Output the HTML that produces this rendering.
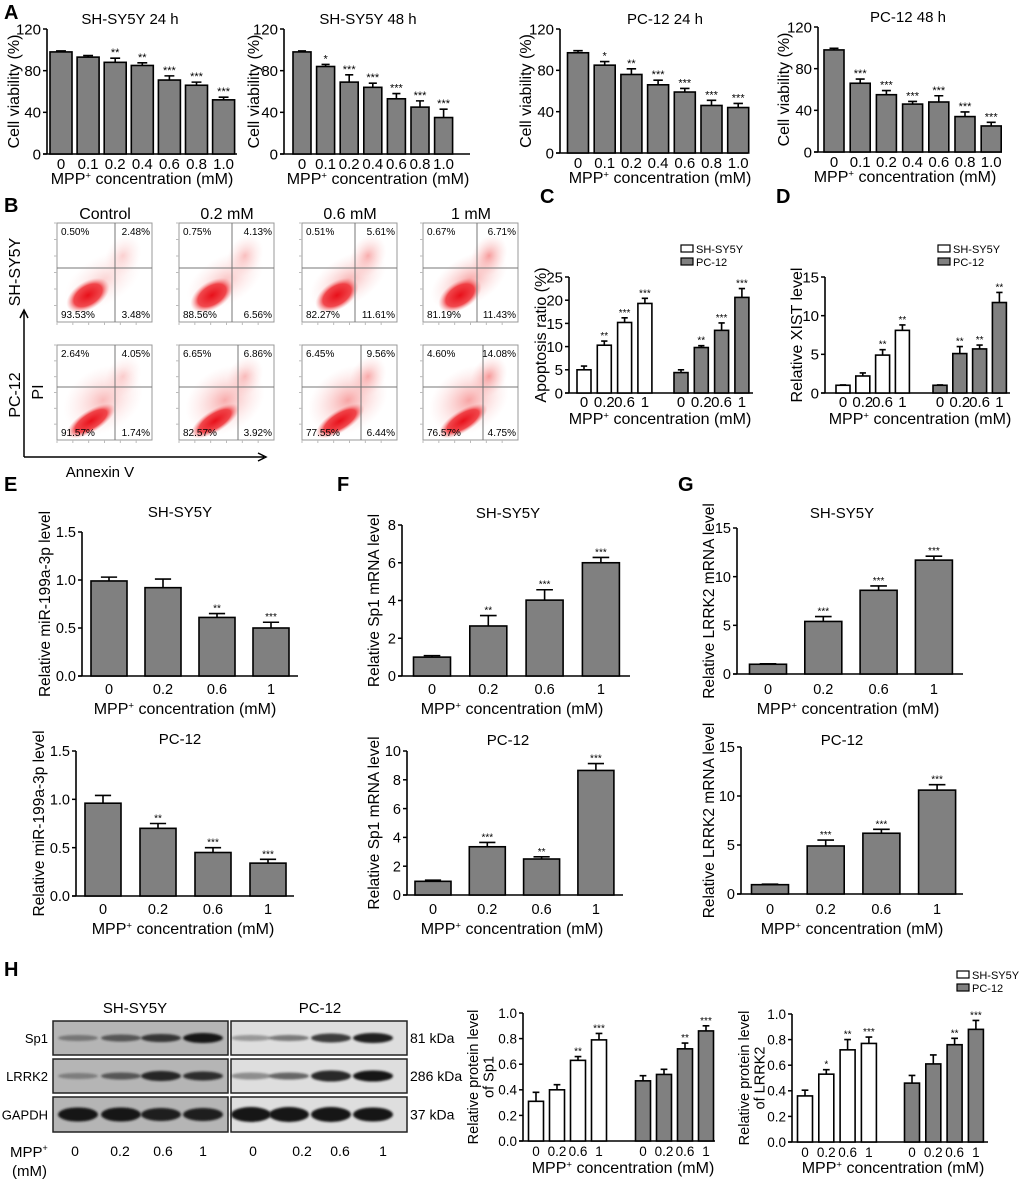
<!DOCTYPE html>
<html><head><meta charset="utf-8">
<style>
html,body{margin:0;padding:0;background:#fff;}
svg{display:block;font-family:"Liberation Sans",Arial,sans-serif;}
</style></head>
<body>
<svg id="fig" width="1020" height="1179" viewBox="0 0 1020 1179" xmlns="http://www.w3.org/2000/svg">
<defs>
<radialGradient id="blob" cx="50%" cy="50%" r="50%">
<stop offset="0%" stop-color="#e8101a" stop-opacity="1"/>
<stop offset="65%" stop-color="#ee2a30" stop-opacity="0.85"/>
<stop offset="100%" stop-color="#f59090" stop-opacity="0"/>
</radialGradient>
<radialGradient id="haze" cx="50%" cy="50%" r="50%">
<stop offset="0%" stop-color="#f04848" stop-opacity="0.55"/>
<stop offset="100%" stop-color="#f8b0b0" stop-opacity="0"/>
</radialGradient>
<filter id="soft" x="-20%" y="-50%" width="140%" height="200%"><feGaussianBlur stdDeviation="1.1"/></filter>
</defs>
<g id="root"></g>
</svg>
<script>
// ===== Panel A data =====
const aCategories = ["0","0.1","0.2","0.4","0.6","0.8","1.0"];
const aTicks = [0,40,80,120];
const a1Values = [98,93,88,85,71,66,52];
const a1Errors = [1,1.5,4,2.5,4,3,2.5];
const a1Stars = ["","","**","**","***","***","***"];
const a2Values = [98,84,69,64,53,45,35];
const a2Errors = [1,2,7,4,5,6,8];
const a2Stars = ["","*","***","***","***","***","***"];
const a3Values = [97,85,76,66,59,46,44];
const a3Errors = [2,3.5,5.5,4.5,3.5,5,4];
const a3Stars = ["","*","**","***","***","***","***"];
const a4Values = [98,66,55,46,48,34,25];
const a4Errors = [1.5,4,4,2.5,6,4.5,3.5];
const a4Stars = ["","***","***","***","***","***","***"];
// ===== Panel C / D data =====
const doseCategories = ["0","0.2","0.6","1"];
const cTicks = [0,5,10,15,20,25];
const cShValues = [5,10.3,15.2,19.3];
const cShErrors = [0.8,0.9,1.0,1.1];
const cShStars = ["","**","***","***"];
const cPcValues = [4.4,9.8,13.5,20.6];
const cPcErrors = [0.6,0.4,1.6,1.9];
const cPcStars = ["","**","***","***"];
const dTicks = [0,5,10,15];
const dShValues = [1,2.2,4.9,8.1];
const dShErrors = [0.05,0.4,0.7,0.7];
const dShStars = ["","","**","**"];
const dPcValues = [1,5.1,5.7,11.7];
const dPcErrors = [0.05,0.9,0.5,1.3];
const dPcStars = ["","**","**","**"];
// ===== Panel E / F / G data =====
const eTicks = [0,0.5,1.0,1.5];
const eShValues = [0.99,0.92,0.61,0.50];
const eShErrors = [0.04,0.09,0.04,0.06];
const eShStars = ["","","**","***"];
const ePcValues = [0.96,0.70,0.45,0.34];
const ePcErrors = [0.08,0.05,0.05,0.04];
const ePcStars = ["","**","***","***"];
const fShTicks = [0,2,4,6,8];
const fShValues = [1,2.65,4.02,6.0];
const fShErrors = [0.08,0.55,0.55,0.28];
const fShStars = ["","**","***","***"];
const fPcTicks = [0,2,4,6,8,10];
const fPcValues = [0.95,3.35,2.5,8.65];
const fPcErrors = [0.08,0.3,0.15,0.48];
const fPcStars = ["","***","**","***"];
const gTicks = [0,5,10,15];
const gShValues = [1,5.4,8.6,11.7];
const gShErrors = [0.05,0.5,0.45,0.4];
const gShStars = ["","***","***","***"];
const gPcValues = [0.95,4.9,6.2,10.6];
const gPcErrors = [0.05,0.6,0.4,0.55];
const gPcStars = ["","***","***","***"];
// ===== Panel H data =====
const hTicks = [0,0.2,0.4,0.6,0.8,1.0];
const hSpShValues = [0.31,0.40,0.63,0.79];
const hSpShErrors = [0.07,0.04,0.03,0.05];
const hSpShStars = ["","","**","***"];
const hSpPcValues = [0.47,0.52,0.72,0.86];
const hSpPcErrors = [0.04,0.04,0.045,0.04];
const hSpPcStars = ["","","**","***"];
const hLrShValues = [0.36,0.53,0.72,0.77];
const hLrShErrors = [0.045,0.035,0.08,0.05];
const hLrShStars = ["","*","**","***"];
const hLrPcValues = [0.46,0.61,0.76,0.88];
const hLrPcErrors = [0.06,0.07,0.05,0.07];
const hLrPcStars = ["","","**","***"];
// ===== Panel B data =====
const flowTitles = ["Control","0.2 mM","0.6 mM","1 mM"];
const flowSh = [["0.50%","2.48%","93.53%","3.48%"],["0.75%","4.13%","88.56%","6.56%"],["0.51%","5.61%","82.27%","11.61%"],["0.67%","6.71%","81.19%","11.43%"]];
const flowPc = [["2.64%","4.05%","91.57%","1.74%"],["6.65%","6.86%","82.57%","3.92%"],["6.45%","9.56%","77.55%","6.44%"],["4.60%","14.08%","76.57%","4.75%"]];

const NS = "http://www.w3.org/2000/svg";
const root = document.getElementById("root");
function el(tag, attrs, parent){
  const e = document.createElementNS(NS, tag);
  for (const k in attrs) e.setAttribute(k, attrs[k]);
  (parent||root).appendChild(e);
  return e;
}
function txt(x,y,s,size,anchor,parent,extra){
  const t = el("text",Object.assign({x:x,y:y,"font-size":size,"text-anchor":anchor||"middle",fill:"#000"},extra||{}),parent);
  t.textContent = s;
  return t;
}
function mppTitle(g,x,y,size){
  const t = el("text",{x:x,y:y,"font-size":size,"text-anchor":"middle",fill:"#000"},g);
  
  
  const a = el("tspan",{},t); a.textContent="MPP";
  const b = el("tspan",{"font-size":size*0.6,dy:-size*0.35},t); b.textContent="+";
  const c = el("tspan",{dy:size*0.35},t); c.textContent=" concentration (mM)";
  return t;
}
function panelLabel(x,y,s){
  const t = txt(x,y,s,20,"start",root,{"font-weight":"bold"});
  
  
}

function barChart(o){
  const g = el("g",{});
  
  
  const ymax = o.ticks[o.ticks.length-1];
  const Y = v => o.yBot - v/ymax*(o.yBot-o.yTop);
  const X = (gi,i) => o.x0 + i*o.step + gi*(o.groupOff||0);
  const ya = el("line",{x1:o.ax,y1:o.yTop,x2:o.ax,y2:o.yBot,stroke:"#000","stroke-width":1.6},g);
  
  
  const xa = el("line",{x1:o.ax-4,y1:o.yBot,x2:o.xEnd,y2:o.yBot,stroke:"#000","stroke-width":1.6},g);
  
  
  const ts = o.tickSize||14;
  o.ticks.forEach(t=>{
    el("line",{x1:o.ax-4,y1:Y(t),x2:o.ax,y2:Y(t),stroke:"#000","stroke-width":1.5},g);
    const lb = txt(o.ax-6,Y(t)+ts*0.36,o.fmt?o.fmt(t):String(t),ts,"end",g);
    
    
  });
  o.series.forEach((s,gi)=>{
    s.vals.forEach((v,i)=>{
      const cx = X(gi,i), top = Y(v);
      const r = el("rect",{x:cx-o.bw/2,y:top,width:o.bw,height:o.yBot-top,fill:s.fill,stroke:"#000","stroke-width":1.6},g);
      
      
      const et = Y(v+s.errs[i]);
      const cap = Math.max(6,o.bw*0.45);
      const eb = el("path",{d:`M${cx},${top} V${et} M${cx-cap/2},${et} H${cx+cap/2}`,stroke:"#000","stroke-width":1.6,fill:"none"},g);
      
      
      if (s.stars[i]){
        const st = txt(cx,et-2,s.stars[i],o.starSize||11,"middle",g);
        
        
      }
      const xl = txt(cx,o.xLabY,o.cats[i],ts,"middle",g);
      
      
    });
  });
  if (o.title){
    const tt = txt(o.titleX,o.titleY,o.title,o.titleSize||15,"middle",g);
    
    
  }
  mppTitle(g,o.xTitleX,o.xTitleY,o.xTitleSize||16);
  const cy = (o.yTop+o.yBot)/2 + (o.yLabShift||0);
  o.yLab.forEach((line,k)=>{
    const lx = o.yLabX + k*(o.yLabSize+1);
    const t = txt(lx,cy,line,o.yLabSize,"middle",g,{transform:`rotate(-90 ${lx} ${cy})`});
    
    
  });
  return g;
}
function legend(x,y){
  const g = el("g",{});
  
  
  [["SH-SY5Y","#fff"],["PC-12","#808080"]].forEach((d,k)=>{
    el("rect",{x:x,y:y+k*13-8,width:12,height:7,fill:d[1],stroke:"#000","stroke-width":1.2},g);
    const t = txt(x+15,y+k*13,d[0],11,"start",g);
    
    
  });
}
const fmt1 = v=>v.toFixed(1);
const GRAY="#808080";

// ===== Panel A =====
panelLabel(4,19,"A");
barChart({name:"chart-a-shsy5y-24h",ax:47,yTop:29,yBot:154,xEnd:237,ticks:aTicks,x0:61,step:27.1,bw:22,cats:aCategories,
  series:[{label:"sh24",vals:a1Values,errs:a1Errors,stars:a1Stars,fill:GRAY}],xLabY:169,title:"SH-SY5Y  24 h",titleX:130,titleY:24,
  xTitleX:142,xTitleY:184,yLab:["Cell viability (%)"],yLabX:19,yLabSize:16,tickSize:15});
barChart({name:"chart-a-shsy5y-48h",ax:284,yTop:29,yBot:154,xEnd:470,ticks:aTicks,x0:302,step:23.6,bw:18,cats:aCategories,
  series:[{label:"sh48",vals:a2Values,errs:a2Errors,stars:a2Stars,fill:GRAY}],xLabY:169,title:"SH-SY5Y  48 h",titleX:368,titleY:24,
  xTitleX:378,xTitleY:184,yLab:["Cell viability (%)"],yLabX:259,yLabSize:16,tickSize:15});
barChart({name:"chart-a-pc12-24h",ax:560,yTop:29,yBot:153,xEnd:748,ticks:aTicks,x0:578,step:26.7,bw:21,cats:aCategories,
  series:[{label:"pc24",vals:a3Values,errs:a3Errors,stars:a3Stars,fill:GRAY}],xLabY:168,title:"PC-12  24 h",titleX:665,titleY:24,
  xTitleX:660,xTitleY:183,yLab:["Cell viability (%)"],yLabX:531,yLabSize:16,tickSize:15});
barChart({name:"chart-a-pc12-48h",ax:818,yTop:27,yBot:152,xEnd:1002,ticks:aTicks,x0:834,step:26.2,bw:20,cats:aCategories,
  series:[{label:"pc48",vals:a4Values,errs:a4Errors,stars:a4Stars,fill:GRAY}],xLabY:167,title:"PC-12  48 h",titleX:908,titleY:22,
  xTitleX:905,xTitleY:182,yLab:["Cell viability (%)"],yLabX:789,yLabSize:16,tickSize:15});

// ===== Panel B (flow cytometry) =====
panelLabel(4,212,"B");
const flowCols=[57,179,302,423], flowW=95;
const rows=[{top:223,bot:322,data:flowSh,v:[58,53,53,54],h:45,name:"shsy5y"},{top:345,bot:440,data:flowPc,v:[58,59,59,60],h:42,name:"pc12"}];
flowTitles.forEach((t,c)=>{const tt=txt(flowCols[c]+48,219,t,16,"middle");});
rows.forEach((r,ri)=>{
  flowCols.forEach((x0,c)=>{
    const g = el("g",{});
    
    
    const H = r.bot-r.top;
    el("rect",{x:x0,y:r.top,width:flowW,height:H,fill:"#fff",stroke:"#999","stroke-width":1},g);
    for(let k=0;k<6;k++){
      el("line",{x1:x0+k*flowW/6,y1:r.bot,x2:x0+k*flowW/6,y2:r.bot+3,stroke:"#bbb","stroke-width":1},g);
      el("line",{x1:x0-3,y1:r.top+k*H/6,x2:x0,y2:r.top+k*H/6,stroke:"#bbb","stroke-width":1},g);
    }
    const sev = c/3 + ri*0.5;
    el("ellipse",{cx:x0+46,cy:r.top+H*0.58,rx:42,ry:24+ri*8,fill:"url(#haze)",opacity:0.45+0.45*Math.min(sev,1),transform:`rotate(-30 ${x0+46} ${r.top+H*0.58})`},g);
    el("ellipse",{cx:x0+66,cy:r.top+H*0.33,rx:17,ry:22,fill:"url(#haze)",opacity:0.45+0.5*c/3,transform:`rotate(30 ${x0+66} ${r.top+H*0.33})`},g);
    const mx = x0+ (ri?34:31)+c*2, my = r.top+H*(ri?0.8:0.73);
    el("ellipse",{cx:mx,cy:my,rx:ri?28:24,ry:ri?11:14,fill:"url(#blob)",transform:`rotate(-32 ${mx} ${my})`},g);
    el("line",{x1:x0+r.v[c],y1:r.top,x2:x0+r.v[c],y2:r.bot,stroke:"#777","stroke-width":1},g);
    el("line",{x1:x0,y1:r.top+r.h,x2:x0+flowW,y2:r.top+r.h,stroke:"#777","stroke-width":1},g);
    const d=r.data[c];
    txt(x0+4,r.top+12,d[0],10,"start",g);
    txt(x0+flowW-2,r.top+12,d[1],10,"end",g);
    txt(x0+4,r.bot-4,d[2],10,"start",g);
    txt(x0+flowW-2,r.bot-4,d[3],10,"end",g);
  });
});
let t;
t=txt(20,272,"SH-SY5Y",16,"middle",root,{transform:"rotate(-90 20 272)"});
t=txt(20,395,"PC-12",16,"middle",root,{transform:"rotate(-90 20 395)"});
t=txt(43,392,"PI",16,"middle",root,{transform:"rotate(-90 43 392)"});
t=txt(100,477,"Annexin V",15,"middle");
t=el("path",{d:"M24,457 V312 M20,318 L24,310 L28,318 M24,457 H264 M258,453 L266,457 L258,461",stroke:"#000","stroke-width":1.5,fill:"none"});


// ===== Panel C / D =====
panelLabel(540,203,"C");
legend(681,253);
barChart({name:"chart-c-apoptosis",ax:569,yTop:277,yBot:393,xEnd:753,ticks:cTicks,x0:584,step:20.3,groupOff:97,bw:14,cats:doseCategories,
  series:[{label:"shsy5y",vals:cShValues,errs:cShErrors,stars:cShStars,fill:"#fff"},{label:"pc12",vals:cPcValues,errs:cPcErrors,stars:cPcStars,fill:GRAY}],
  xLabY:407,xTitleX:660,xTitleY:424,yLab:["Apoptosis ratio (%)"],yLabX:546,yLabSize:16,tickSize:15,starSize:10});
panelLabel(776,203,"D");
legend(938,253);
barChart({name:"chart-d-xist",ax:825,yTop:277,yBot:393,xEnd:1010,ticks:dTicks,x0:843,step:19.8,groupOff:97,bw:14,cats:doseCategories,
  series:[{label:"shsy5y",vals:dShValues,errs:dShErrors,stars:dShStars,fill:"#fff"},{label:"pc12",vals:dPcValues,errs:dPcErrors,stars:dPcStars,fill:GRAY}],
  xLabY:407,xTitleX:920,xTitleY:424,yLab:["Relative XIST level"],yLabX:802,yLabSize:16,tickSize:15,starSize:10});

// ===== Panel E =====
panelLabel(4,491,"E");
barChart({name:"chart-e-shsy5y",ax:82,yTop:532,yBot:676,xEnd:298,ticks:eTicks,fmt:fmt1,x0:109,step:54,bw:36,cats:doseCategories,
  series:[{label:"e-sh",vals:eShValues,errs:eShErrors,stars:eShStars,fill:GRAY}],xLabY:694,title:"SH-SY5Y",titleX:180,titleY:517,
  xTitleX:185,xTitleY:714,yLab:["Relative miR-199a-3p level"],yLabX:50,yLabSize:15.5,tickSize:14.5,starSize:10});
barChart({name:"chart-e-pc12",ax:76,yTop:751,yBot:896,xEnd:294,ticks:eTicks,fmt:fmt1,x0:103,step:55,bw:36,cats:doseCategories,
  series:[{label:"e-pc",vals:ePcValues,errs:ePcErrors,stars:ePcStars,fill:GRAY}],xLabY:914,title:"PC-12",titleX:180,titleY:744,
  xTitleX:183,xTitleY:934,yLab:["Relative miR-199a-3p level"],yLabX:44,yLabSize:15.5,tickSize:14.5,starSize:10});

// ===== Panel F =====
panelLabel(337,491,"F");
barChart({name:"chart-f-shsy5y",ax:402,yTop:525,yBot:676,xEnd:630,ticks:fShTicks,x0:432,step:56.3,bw:37,cats:doseCategories,
  series:[{label:"f-sh",vals:fShValues,errs:fShErrors,stars:fShStars,fill:GRAY}],xLabY:694,title:"SH-SY5Y",titleX:508,titleY:518,
  xTitleX:512,xTitleY:714,yLab:["Relative Sp1 mRNA level"],yLabX:379,yLabSize:15.5,tickSize:14.5,starSize:10});
barChart({name:"chart-f-pc12",ax:407,yTop:751,yBot:895,xEnd:623,ticks:fPcTicks,x0:433,step:54.3,bw:36,cats:doseCategories,
  series:[{label:"f-pc",vals:fPcValues,errs:fPcErrors,stars:fPcStars,fill:GRAY}],xLabY:914,title:"PC-12",titleX:508,titleY:745,
  xTitleX:512,xTitleY:934,yLab:["Relative Sp1 mRNA level"],yLabX:379,yLabSize:15.5,tickSize:14.5,starSize:10});

// ===== Panel G =====
panelLabel(678,491,"G");
barChart({name:"chart-g-shsy5y",ax:737,yTop:528,yBot:674,xEnd:963,ticks:gTicks,x0:768,step:55.3,bw:37,cats:doseCategories,
  series:[{label:"g-sh",vals:gShValues,errs:gShErrors,stars:gShStars,fill:GRAY}],xLabY:694,title:"SH-SY5Y",titleX:842,titleY:518,
  xTitleX:848,xTitleY:714,yLab:["Relative LRRK2 mRNA level"],yLabX:714,yLabSize:15.5,tickSize:14.5,starSize:10});
barChart({name:"chart-g-pc12",ax:741,yTop:747,yBot:894,xEnd:963,ticks:gTicks,x0:770,step:55.7,bw:37,cats:doseCategories,
  series:[{label:"g-pc",vals:gPcValues,errs:gPcErrors,stars:gPcStars,fill:GRAY}],xLabY:914,title:"PC-12",titleX:842,titleY:745,
  xTitleX:852,xTitleY:934,yLab:["Relative LRRK2 mRNA level"],yLabX:714,yLabSize:15.5,tickSize:14.5,starSize:10});

// ===== Panel H western blot =====
panelLabel(4,976,"H");
(function(){
  const g = el("g",{});
  
  
  const gels=[{x:53,w:175,bg:"#b5b5b5",lanes:[78,121,161,203],name:"shsy5y"},{x:231,w:176,bg:"#dedede",lanes:[251,289,331,373],name:"pc12"}];
  const rowsH=[{y:1021,h:34,name:"Sp1",kda:"81 kDa",bands:[[0.4,3],[0.6,3.5],[0.8,4],[1,5]],pb:[[0.35,3],[0.5,3],[0.8,4.5],[0.95,5]]},
               {y:1059,h:34,name:"LRRK2",kda:"286 kDa",bands:[[0.35,3],[0.6,3.5],[0.9,5],[0.85,4.5]],pb:[[0.4,3.5],[0.6,3.5],[0.9,5.5],[1,5.5]]},
               {y:1097,h:35,name:"GAPDH",kda:"37 kDa",bands:[[1,7],[1,7],[0.95,6.5],[0.95,6.5]],pb:[[1,7.5],[1,7.5],[1,7.5],[1,7]]}];
  gels.forEach((gl,gi)=>{
    rowsH.forEach(r=>{
      const b = el("rect",{x:gl.x,y:r.y,width:gl.w,height:r.h,fill:gl.bg,stroke:"#222","stroke-width":1.5},g);
      
      
      const bands = gi? r.pb : r.bands;
      gl.lanes.forEach((lx,i)=>{
        const [op,ry]=bands[i];
        el("ellipse",{cx:lx,cy:r.y+r.h/2,rx:20,ry:ry,fill:"#151515",opacity:op,filter:"url(#soft)"},g);
      });
    });
  });
  rowsH.forEach(r=>{
    txt(48,r.y+r.h/2+5,r.name,13,"end",g);
    txt(410,r.y+r.h/2+5,r.kda,14,"start",g);
  });
  txt(135,1013,"SH-SY5Y",15,"middle",g);
  txt(320,1013,"PC-12",15,"middle",g);
  const m = el("text",{x:10,y:1157,"font-size":15},g);
  const m1=el("tspan",{},m); m1.textContent="MPP";
  const m2=el("tspan",{"font-size":9,dy:-6},m); m2.textContent="+";
  txt(12,1176,"(mM)",15,"start",g);
  const laneLabels=["0","0.2","0.6","1"];
  [75,120,163,203].forEach((x,i)=>txt(x,1156,laneLabels[i],14,"middle",g));
  [253,302,340,383].forEach((x,i)=>txt(x,1156,laneLabels[i],14,"middle",g));
})();

// ===== Panel H bar charts =====
legend(957,979);
barChart({name:"chart-h-sp1-protein",ax:523,yTop:1013,yBot:1141,xEnd:715,ticks:hTicks,fmt:fmt1,x0:536,step:21,groupOff:107,bw:15,cats:doseCategories,
  series:[{label:"sp1-sh",vals:hSpShValues,errs:hSpShErrors,stars:hSpShStars,fill:"#fff"},{label:"sp1-pc",vals:hSpPcValues,errs:hSpPcErrors,stars:hSpPcStars,fill:GRAY}],
  xLabY:1156,xTitleX:623,xTitleY:1173,yLab:["Relative protein level","of Sp1"],yLabX:478,yLabSize:14.5,tickSize:13.5,starSize:10});
barChart({name:"chart-h-lrrk2-protein",ax:792,yTop:1014,yBot:1142,xEnd:988,ticks:hTicks,fmt:fmt1,x0:805,step:21.3,groupOff:107,bw:15,cats:doseCategories,
  series:[{label:"lrrk2-sh",vals:hLrShValues,errs:hLrShErrors,stars:hLrShStars,fill:"#fff"},{label:"lrrk2-pc",vals:hLrPcValues,errs:hLrPcErrors,stars:hLrPcStars,fill:GRAY}],
  xLabY:1157,xTitleX:893,xTitleY:1173,yLab:["Relative protein level","of LRRK2"],yLabX:749,yLabSize:14.5,tickSize:13.5,starSize:10});
</script>
</body></html>
